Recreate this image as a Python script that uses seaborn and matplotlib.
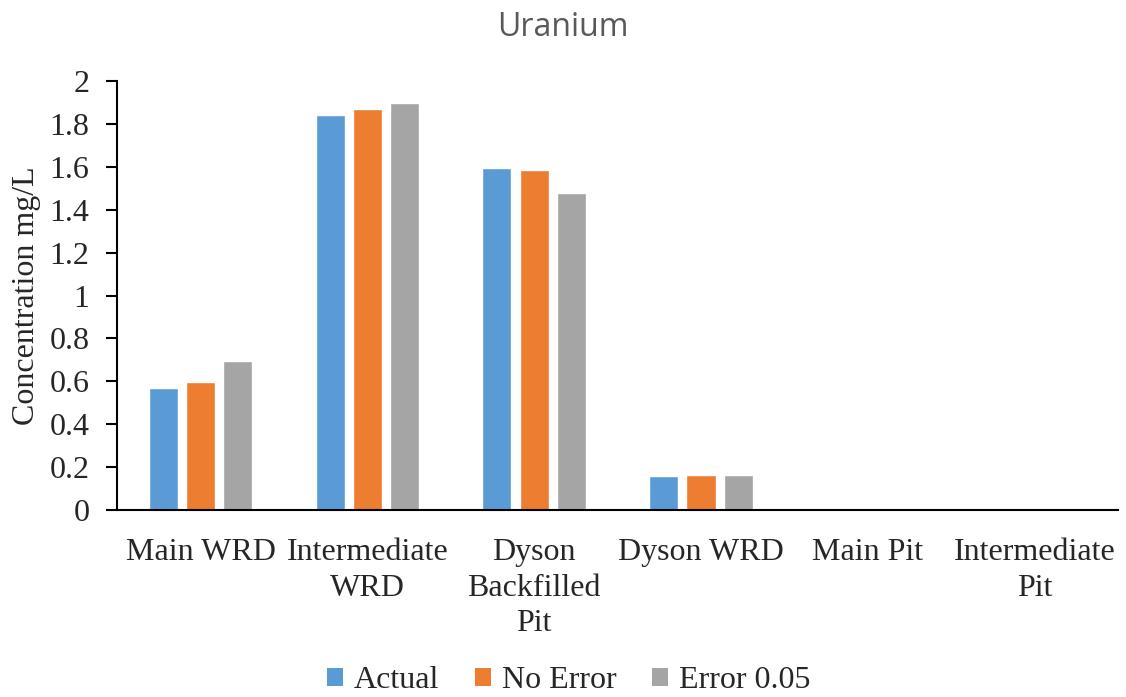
import matplotlib
matplotlib.use("Agg")
import matplotlib.pyplot as plt
import seaborn as sns
import pandas as pd
import numpy as np
from matplotlib.patches import Patch

categories = ["Main WRD", "Intermediate\nWRD", "Dyson\nBackfilled\nPit", "Dyson WRD", "Main Pit", "Intermediate\nPit"]
series_names = ["Actual", "No Error", "Error 0.05"]
actual = [0.569, 1.842, 1.592, 0.158, 0.0, 0.0]
no_error = [0.597, 1.870, 1.585, 0.165, 0.0, 0.0]
error_005 = [0.695, 1.897, 1.478, 0.163, 0.0, 0.0]
colors = ["#5B9BD5", "#ED7D31", "#A5A5A5"]
yticks = [0, 0.2, 0.4, 0.6, 0.8, 1.0, 1.2, 1.4, 1.6, 1.8, 2.0]
ytick_labels = ["0", "0.2", "0.4", "0.6", "0.8", "1", "1.2", "1.4", "1.6", "1.8", "2"]

rows = []
for name, vals in zip(series_names, [actual, no_error, error_005]):
    for c, v in zip(categories, vals):
        rows.append({"cat": c, "series": name, "value": v})
df = pd.DataFrame(rows)

sns.set_style("white")
plt.rcParams["font.family"] = ["Liberation Serif", "DejaVu Serif"]

fig = plt.figure(figsize=(11.26, 6.97), dpi=100)
ax = fig.add_axes([0.104, 0.268, 0.889, 0.616])

sns.barplot(data=df, x="cat", y="value", hue="series", order=categories,
            hue_order=series_names, palette=colors, width=0.67, gap=0.22,
            saturation=1, legend=False, ax=ax)

FS = 23
ax.set_xlim(-0.5, len(categories) - 0.5)
ax.set_ylim(0, 2)
ax.set_yticks(yticks)
ax.set_yticklabels(ytick_labels, fontsize=FS)
ax.set_xticks(range(len(categories)))
ax.set_xticklabels(categories, fontsize=FS, linespacing=1.3)
ax.set_xticks(np.arange(-0.5, len(categories)), minor=True)
ax.tick_params(axis="x", which="major", length=0, pad=20)
ax.tick_params(axis="x", which="minor", length=9, width=1.5, direction="out", color="black")
ax.tick_params(axis="y", which="major", length=8, width=1.5, direction="out", color="black", left=True, pad=12)
ax.set_xlabel("")
ax.set_ylabel("Concentration mg/L", fontsize=FS, labelpad=6)

for s in ["top", "right"]:
    ax.spines[s].set_visible(False)
for s in ["left", "bottom"]:
    ax.spines[s].set_color("black")
    ax.spines[s].set_linewidth(1.5)

fig.text(0.5, 0.96, "Uranium", ha="center", va="center", fontsize=23,
         color="#595959", family=["Open Sans", "DejaVu Sans"])

handles = [Patch(facecolor=c, edgecolor="none") for c in colors]
fig.legend(handles, series_names, loc="center", bbox_to_anchor=(0.505, 0.023), ncol=3,
           frameon=False, fontsize=FS, handlelength=0.5, handleheight=0.5,
           handletextpad=0.35, columnspacing=1.1)

fig.savefig("out.png", dpi=100)
